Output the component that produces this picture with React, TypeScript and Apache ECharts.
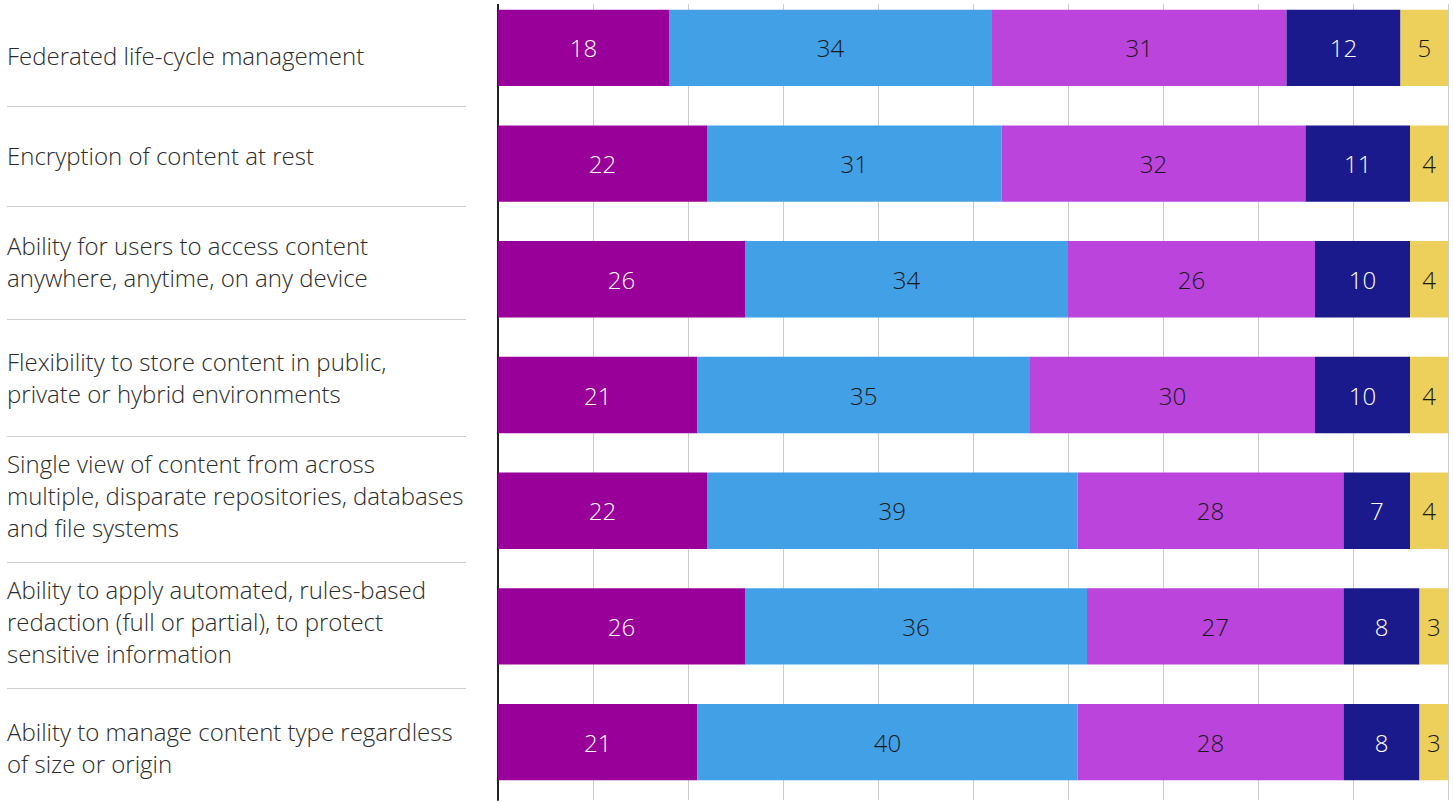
import React, { useEffect, useRef } from "react";
import * as echarts from "echarts";

const categories = [
  "Federated life-cycle management",
  "Encryption of content at rest",
  "Ability for users to access content\nanywhere, anytime, on any device",
  "Flexibility to store content in public,\nprivate or hybrid environments",
  "Single view of content from across\nmultiple, disparate repositories, databases\nand file systems",
  "Ability to apply automated, rules-based\nredaction (full or partial), to protect\nsensitive information",
  "Ability to manage content type regardless\nof size or origin",
];

const seriesA = [18, 22, 26, 21, 22, 26, 21];
const seriesB = [34, 31, 34, 35, 39, 36, 40];
const seriesC = [31, 32, 26, 30, 28, 27, 28];
const seriesD = [12, 11, 10, 10, 7, 8, 8];
const seriesE = [5, 4, 4, 4, 4, 3, 3];

const seriesList = [seriesA, seriesB, seriesC, seriesD, seriesE];
const colors = ["#990099", "#41A0E6", "#BB44DD", "#1A1A8C", "#EDCF5C"];
const labelColors = ["#ffffff", "#1a1a1a", "#1a1a1a", "#ffffff", "#1a1a1a"];

// the chart's div starts OFFSET px above the page top
const OFFSET = 14;
// layout of the left-hand label column (page pixels)
const labelCenters = [55, 155, 261, 377, 495, 621, 747];
const separatorYs = [106.5, 206.5, 319.5, 436.5, 562.5, 688.5];

const FONT = "'Open Sans', 'Noto Sans', sans-serif";

export default function App() {
  const ref = useRef<HTMLDivElement>(null);
  useEffect(() => {
    if (!ref.current) return;
    const chart = echarts.init(ref.current, undefined, { renderer: "svg" });
    const graphics: any[] = [];
    categories.forEach((c, i) => {
      graphics.push({
        type: "text",
        x: 7,
        y: labelCenters[i] + OFFSET,
        style: {
          text: c,
          x: 0,
          y: 0,
          fill: "#2b2b2b",
          fontSize: 24,
          fontFamily: FONT,
          fontWeight: 300,
          lineHeight: 32,
          verticalAlign: "middle",
          align: "left",
        },
      });
    });
    separatorYs.forEach((y) => {
      graphics.push({
        type: "line",
        shape: { x1: 7, y1: y + OFFSET, x2: 466, y2: y + OFFSET },
        style: { stroke: "#cfcfcf", lineWidth: 1 },
      });
    });
    graphics.push({
      type: "rect",
      z: 100,
      shape: { x: 490, y: 0, width: 963, height: 4 + OFFSET },
      style: { fill: "#ffffff" },
    });

    chart.setOption({
      animation: false,
      backgroundColor: "#ffffff",
      grid: { left: 498, right: 5, top: 4, height: 810, containLabel: false },
      xAxis: {
        type: "value",
        min: 0,
        max: 100,
        interval: 10,
        axisLabel: { show: false },
        axisLine: { show: false },
        axisTick: { show: false },
        splitLine: { show: true, lineStyle: { color: "#cccccc", width: 1 } },
      },
      yAxis: {
        type: "category",
        inverse: true,
        data: categories,
        axisLabel: { show: false },
        axisTick: { show: false },
        axisLine: { show: true, lineStyle: { color: "#222222", width: 2 } },
      },
      series: seriesList.map((d, i) => ({
        type: "bar",
        stack: "total",
        data: d,
        barCategoryGap: "34%",
        itemStyle: { color: colors[i] },
        label: {
          show: true,
          position: "inside",
          color: labelColors[i],
          fontSize: 24,
          fontFamily: FONT,
          fontWeight: 300,
        },
      })),
      graphic: graphics,
    });
    return () => chart.dispose();
  }, []);
  return (
    <div
      ref={ref}
      style={{ position: "fixed", left: 0, top: -OFFSET, width: 1453, height: 803 + OFFSET + 6 }}
    />
  );
}
